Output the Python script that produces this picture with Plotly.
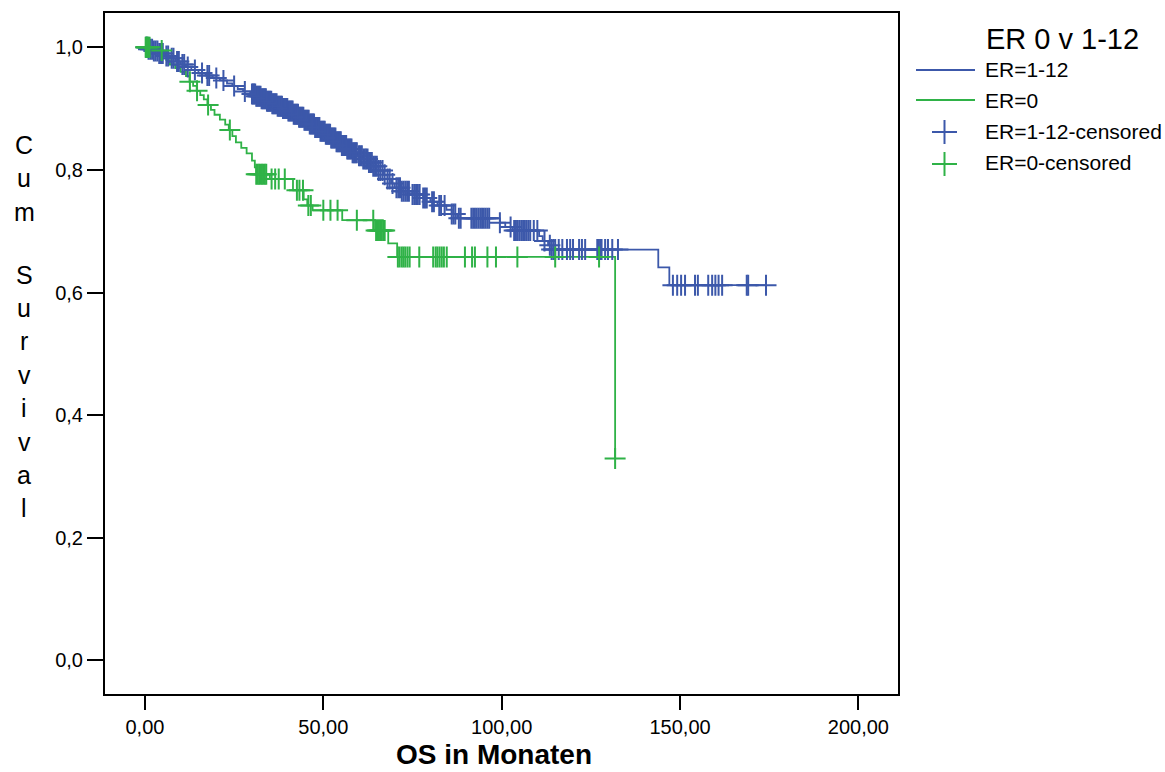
import plotly.graph_objects as go

# Kaplan-Meier step points (time in months, cumulative survival after the step)
er112_time = [0, 1, 2.5, 4, 5.5, 7, 8.5, 10, 11.5, 13, 15, 17, 19, 21, 23, 24.5, 26, 27.5,
              29.5, 31, 32.5, 34, 35.5, 37, 38.5, 40, 41.5, 43, 44.5, 46, 47.5, 49, 50.5,
              52, 53.5, 55, 56.5, 58, 59.5, 61, 62.5, 64, 65.5, 67, 68, 69, 70, 72, 75,
              78, 80, 82, 84.5, 86, 87.5, 99.5, 101, 103, 110.5, 111.5, 113, 114, 143.9, 147]
er112_surv = [1.0, 0.997, 0.994, 0.99, 0.986, 0.982, 0.977, 0.972, 0.968, 0.963, 0.958, 0.954,
              0.95, 0.946, 0.941, 0.937, 0.932, 0.928, 0.924, 0.92, 0.916, 0.912, 0.908, 0.904,
              0.9, 0.896, 0.891, 0.886, 0.881, 0.875, 0.869, 0.863, 0.858, 0.852, 0.846, 0.84,
              0.834, 0.828, 0.823, 0.818, 0.812, 0.806, 0.799, 0.792, 0.785, 0.778, 0.771,
              0.765, 0.76, 0.754, 0.748, 0.742, 0.735, 0.728, 0.721, 0.714, 0.707, 0.701,
              0.692, 0.684, 0.677, 0.67, 0.641, 0.612]
er112_end = 174.1

er0_time = [0, 2, 5.5, 6, 7, 8.5, 10, 11.5, 12.5, 13.5, 14.5, 15.5, 16.5, 17.5, 18.5, 19.5,
            21, 22.5, 23.5, 24.5, 25.5, 27, 28.5, 30, 30.8, 31.2, 35, 41.5, 44.5, 45.5, 47,
            55.3, 64.5, 68.2, 70.7, 131.8]
er0_surv = [1.0, 0.995, 0.988, 0.979, 0.972, 0.966, 0.96, 0.953, 0.944, 0.937, 0.929, 0.922,
            0.915, 0.906, 0.898, 0.89, 0.882, 0.874, 0.865, 0.855, 0.845, 0.836, 0.827, 0.815,
            0.804, 0.793, 0.785, 0.767, 0.752, 0.742, 0.734, 0.718, 0.701, 0.68, 0.658, 0.329]

# Censoring times
er112_cens = [0.3, 0.6, 1, 1.5, 2, 2.5, 3, 3.5, 4, 4.5, 5, 6, 6.5, 7.5, 8, 9, 9.5, 10.5, 11,
              12, 14, 16, 17.5, 18, 20, 22, 25, 28,
              30, 30.3, 30.6, 30.9, 31.2, 31.5, 31.8, 32.1, 32.4, 32.7, 33, 33.3, 33.6, 33.9,
              34.2, 34.5, 34.8, 35.1, 35.4, 35.7, 36, 36.3, 36.6, 36.9, 37.2, 37.5, 37.8,
              38.1, 38.4, 38.7, 39, 39.3, 39.6, 39.9, 40.2, 40.5, 40.8, 41.1, 41.4, 41.7,
              42, 42.3, 42.6, 42.9, 43.2, 43.5, 43.8,
              44.1, 44.4, 44.7, 45, 45.3, 45.6, 45.9, 46.2, 46.5, 46.8, 47.1, 47.4, 47.7,
              48, 48.3, 48.6, 48.9, 49.2, 49.5, 49.8, 50.1, 50.4, 50.7, 51, 51.3, 51.6,
              51.9, 52.2, 52.5, 52.8, 53.1, 53.4, 53.7, 54, 54.3, 54.6, 54.9, 55.2, 55.5,
              55.8, 56.1, 56.4, 56.7, 57, 57.3, 57.6, 57.9, 58.2, 58.5, 58.8, 59.1, 59.4,
              60, 60.4, 60.8, 61.2, 61.6, 62, 62.4, 62.8, 63.2, 63.6, 64, 64.5, 65, 65.5,
              66, 66.6, 67.2, 68, 68.6, 69.4,
              70.5, 71, 71.5, 72, 72.5, 73, 73.5, 74, 75, 75.5, 76, 76.5, 77, 78, 78.5, 79,
              80.5, 81, 82.5, 83, 84,
              86, 86.5, 87, 88, 88.5, 91.5, 92, 92.5, 93, 93.5, 94, 94.5, 95, 95.5, 96, 96.5,
              99.5, 102.5, 103.5, 104, 104.5, 105, 105.5, 106, 106.5, 107, 107.5, 108, 109,
              110, 112,
              113.5, 114, 114.5, 115, 116, 117, 118.3, 119.2, 120, 121.7, 122.5, 123.4, 126.8,
              127.2, 127.6, 128, 129, 129.8, 131, 132.6,
              148, 149.2, 150.3, 151.4, 154.2, 155, 157.9, 159, 159.9, 160.8, 161.8, 168.7,
              169.1, 174.1]
er0_cens = [0.2, 0.4, 0.6, 0.8, 1.0, 1.3, 4.7, 12.6, 14.6, 17.7, 23.8,
            31.2, 31.6, 32, 32.4, 32.8, 33.2, 33.6, 34, 35.5, 36.5, 37.5, 39.2,
            42.6, 43.3, 44.3, 45.8, 46.5, 50, 52, 54, 59.4, 64,
            64.8, 65.2, 65.6, 66, 66.4, 66.8, 67.2,
            70.9, 71.4, 72, 72.5, 73, 73.6, 74.2, 76.9, 80.8, 81.5, 82, 82.6, 83.2, 83.8,
            84.6, 89.7, 91.7, 92.5, 96, 98.4, 104.4, 115, 127.3, 131.8]

x_ticks = [0, 50, 100, 150, 200]
y_ticks = [0.0, 0.2, 0.4, 0.6, 0.8, 1.0]

legend_title = "ER 0 v 1-12"
legend_labels = ["ER=1-12", "ER=0", "ER=1-12-censored", "ER=0-censored"]

BLUE = "#3c58aa"
GREEN = "#2fb247"
FONT = "Arial, Liberation Sans, sans-serif"

# plot-area geometry in pixels
W, H = 1165, 772
L, R, T, B = 105, 898, 13, 694
PW, PH = R - L, B - T


def px(x):
    return (x - L) / PW


def py(y):
    return 1 - (y - T) / PH


def surv_at(times, survs, t):
    """Survival level of a step curve at time t."""
    s = survs[0]
    for ti, si in zip(times, survs):
        if ti <= t:
            s = si
        else:
            break
    return s


fig = go.Figure()

fig.add_trace(go.Scatter(
    x=er112_time + [er112_end], y=er112_surv + [er112_surv[-1]],
    mode="lines", line=dict(color=BLUE, width=1.8, shape="hv"), name=legend_labels[0]))
fig.add_trace(go.Scatter(
    x=er0_time, y=er0_surv,
    mode="lines", line=dict(color=GREEN, width=1.8, shape="hv"), name=legend_labels[1]))
fig.add_trace(go.Scatter(
    x=er112_cens, y=[surv_at(er112_time, er112_surv, t) for t in er112_cens],
    mode="markers", name=legend_labels[2],
    marker=dict(symbol="cross-thin", size=15, color=BLUE, line=dict(color=BLUE, width=2))))
fig.add_trace(go.Scatter(
    x=er0_cens, y=[surv_at(er0_time, er0_surv, t) for t in er0_cens],
    mode="markers", name=legend_labels[3],
    marker=dict(symbol="cross-thin", size=15, color=GREEN, line=dict(color=GREEN, width=2))))

# vertical, letter-stacked y-axis title
letters = ["C", "u", "m", "", "S", "u", "r", "v", "i", "v", "a", "l"]
for i, ch in enumerate(letters):
    if not ch:
        continue
    y_px = 145 + i * 33.4 - (4 if i > 3 else 0)
    fig.add_annotation(text=ch, xref="paper", yref="paper", x=px(24), y=py(y_px),
                       xanchor="center", yanchor="middle", showarrow=False,
                       font=dict(family=FONT, size=25, color="black"))

# x-axis title
fig.add_annotation(text="<b>OS in Monaten</b>", xref="paper", yref="paper",
                   x=px(494), y=py(754), xanchor="center", yanchor="middle",
                   showarrow=False, borderpad=0,
                   font=dict(family=FONT, size=28, color="black"))

# legend block
fig.add_annotation(text=legend_title, xref="paper", yref="paper",
                   x=px(1062), y=py(39), xanchor="center", yanchor="middle",
                   showarrow=False, font=dict(family=FONT, size=29, color="black"))
row_y = [70, 100, 131, 163]
row_col = [BLUE, GREEN, BLUE, GREEN]
shapes = []
for k, (lab, yy, col) in enumerate(zip(legend_labels, row_y, row_col)):
    fig.add_annotation(text=lab, xref="paper", yref="paper", x=px(983), y=py(yy),
                       xanchor="left", yanchor="middle", showarrow=False,
                       font=dict(family=FONT, size=21, color="black"))
    if k < 2:
        shapes.append(dict(type="line", xref="paper", yref="paper",
                           x0=px(916), x1=px(975), y0=py(yy), y1=py(yy),
                           line=dict(color=col, width=2)))
    else:
        shapes.append(dict(type="line", xref="paper", yref="paper",
                           x0=px(932), x1=px(957), y0=py(yy + 1), y1=py(yy + 1),
                           line=dict(color=col, width=2)))
        shapes.append(dict(type="line", xref="paper", yref="paper",
                           x0=px(944.5), x1=px(944.5), y0=py(yy - 11), y1=py(yy + 13),
                           line=dict(color=col, width=2)))

fig.update_layout(
    width=W, height=H,
    margin=dict(l=L, r=W - R, t=T, b=H - B),
    paper_bgcolor="white", plot_bgcolor="white",
    separators=",.",
    font=dict(family=FONT, color="black"),
    showlegend=False,
    shapes=shapes,
    xaxis=dict(
        range=[-11.2, 211.1], tickvals=x_ticks, tickformat=".2f",
        ticks="outside", ticklen=14, tickwidth=2, tickcolor="black",
        showline=True, linewidth=2, linecolor="black", mirror=True,
        showgrid=False, zeroline=False,
        tickfont=dict(size=20),
    ),
    yaxis=dict(
        range=[-0.055, 1.056], tickvals=y_ticks, tickformat=".1f",
        ticks="outside", ticklen=16, tickwidth=2, tickcolor="black",
        showline=True, linewidth=2, linecolor="black", mirror=True,
        showgrid=False, zeroline=False,
        tickfont=dict(size=20),
    ),
)

fig.write_html("out.html")
